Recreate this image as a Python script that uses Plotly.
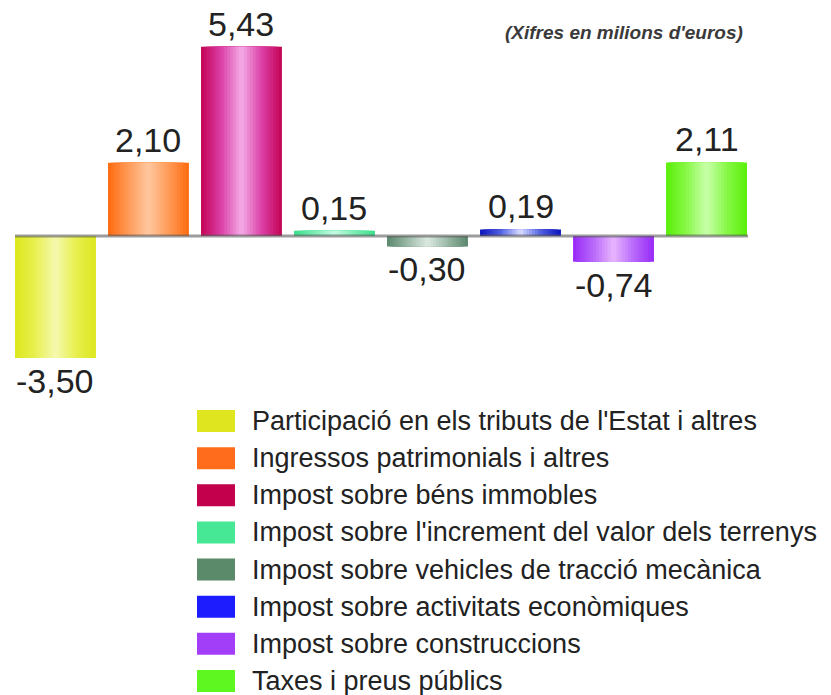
import plotly.graph_objects as go

# ---- data ----
categories = [
    "Participació en els tributs de l'Estat i altres",
    "Ingressos patrimonials i altres",
    "Impost sobre béns immobles",
    "Impost sobre l'increment del valor dels terrenys",
    "Impost sobre vehicles de tracció mecànica",
    "Impost sobre activitats econòmiques",
    "Impost sobre construccions",
    "Taxes i preus públics",
]
values = [-3.50, 2.10, 5.43, 0.15, -0.30, 0.19, -0.74, 2.11]
note_text = "(Xifres en milions d'euros)"

# ---- styles ----
edge_colors = ["#dde820", "#ff6e14", "#c4085a", "#3ee08e", "#5e8a70", "#1018c0", "#9a2ef8", "#5cf00c"]
mid_colors = ["#e8f050", "#ff9a58", "#dc40a8", "#7cecb4", "#9ab8a6", "#5060e0", "#b868fa", "#88f848"]
center_colors = ["#f4f8a8", "#ffc49a", "#f2a4e2", "#c0fae0", "#d8e6de", "#d0d4ff", "#e4b0ff", "#c4ffa4"]
legend_colors = ["#dfe620", "#ff6c1c", "#c2004c", "#46e896", "#5a8a6a", "#1c1cff", "#a23ef8", "#5ef820"]

W, H = 831, 695
ML, MR, MT, MB = 15, 83, 10, 315
PX_PER_UNIT = 34.85
ZERO_PX = 236
PLOT_L, PLOT_R = ML, W - MR
PLOT_T, PLOT_B = MT, H - MB
ymax = (ZERO_PX - PLOT_T) / PX_PER_UNIT
ymin = -(PLOT_B - ZERO_PX) / PX_PER_UNIT
BAR_W = 0.87
K = 14


def hex2rgb(h):
    h = h.lstrip("#")
    return tuple(int(h[i:i + 2], 16) for i in (0, 2, 4))


def mix(c1, c2, t):
    a, b = hex2rgb(c1), hex2rgb(c2)
    return "rgb(%d,%d,%d)" % tuple(round(a[i] + (b[i] - a[i]) * t) for i in range(3))


def grad(i, t):
    if t < 0.5:
        return mix(edge_colors[i], mid_colors[i], t / 0.5)
    return mix(mid_colors[i], center_colors[i], (t - 0.5) / 0.5)


def px_x(px):
    return (px - PLOT_L) / (PLOT_R - PLOT_L)


def px_y(py):
    return (PLOT_B - py) / (PLOT_B - PLOT_T)


idx = list(range(len(categories)))
fig = go.Figure()
for k in range(K):
    t = k / (K - 1)
    fig.add_trace(go.Bar(
        x=idx, y=values,
        width=BAR_W * (1 - k / K),
        marker=dict(color=[grad(i, t) for i in idx], line=dict(width=0)),
        showlegend=False, hoverinfo="skip",
    ))

annotations = []
for i, v in zip(idx, values):
    annotations.append(dict(
        x=i, y=v, xref="x", yref="y",
        text=f"{v:.2f}".replace(".", ","),
        showarrow=False,
        yanchor="bottom" if v >= 0 else "top",
        yshift=2 if v >= 0 else -2,
        font=dict(family="Liberation Sans, Arial, sans-serif", size=34, color="#222222"),
    ))

annotations.append(dict(
    x=px_x(745), y=px_y(32.5), xref="paper", yref="paper",
    text="<i><b>" + note_text + "</b></i>", showarrow=False,
    xanchor="right", yanchor="middle",
    font=dict(family="Liberation Sans, Arial, sans-serif", size=19, color="#3a3a3a"),
))

shapes = [dict(
    type="line", xref="paper", yref="y", x0=0, x1=1, y0=0, y1=0,
    line=dict(color="rgba(90,90,90,0.6)", width=3), layer="above",
)]

ROW0, ROW_STEP = 421, 37.14
for i, name in enumerate(categories):
    cy = ROW0 + ROW_STEP * i
    shapes.append(dict(
        type="rect", xref="paper", yref="paper",
        x0=px_x(197), x1=px_x(235), y0=px_y(cy + 11), y1=px_y(cy - 11),
        fillcolor=legend_colors[i], line=dict(width=0),
    ))
    annotations.append(dict(
        x=px_x(250), y=px_y(cy), xref="paper", yref="paper",
        text=name, showarrow=False, xanchor="left", yanchor="middle",
        font=dict(family="Liberation Sans, Arial, sans-serif", size=27, color="#222222"),
    ))

fig.update_layout(
    width=W, height=H,
    margin=dict(l=ML, r=MR, t=MT, b=MB),
    paper_bgcolor="white", plot_bgcolor="white",
    barmode="overlay",
    xaxis=dict(visible=False, range=[-0.435, 7.446]),
    yaxis=dict(visible=False, range=[ymin, ymax]),
    annotations=annotations,
    shapes=shapes,
    showlegend=False,
)

fig.write_html("out.html", config={"displayModeBar": False},
               post_script="document.body.style.margin='0px';")
